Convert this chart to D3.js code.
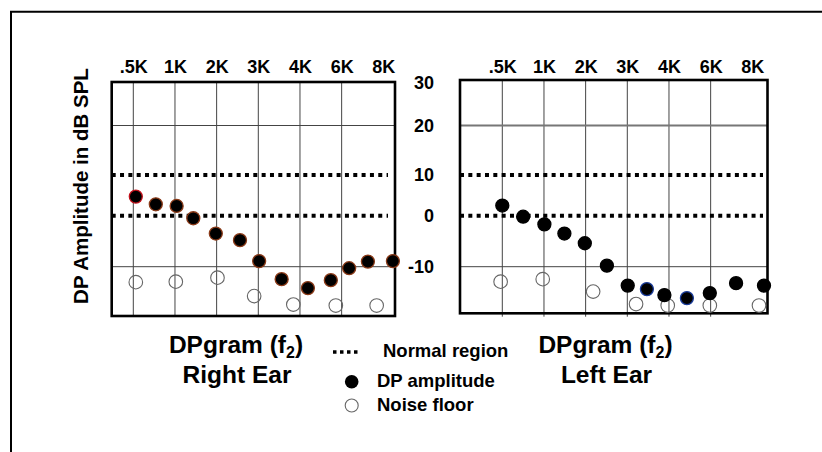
<!DOCTYPE html>
<html>
<head>
<meta charset="utf-8">
<script src="https://cdn.jsdelivr.net/npm/d3@7"></script>
<style>
  html, body { margin: 0; padding: 0; background: #fff; }
  svg { display: block; }
  text { font-family: "Liberation Sans", Arial, Helvetica, sans-serif; font-weight: bold; fill: #000; }
</style>
</head>
<body>
<div id="chart"></div>
<script>
// ---- data ----
const freqTicks = [500, 1000, 2000, 3000, 4000, 6000, 8000];
const tickLabels = [".5K", "1K", "2K", "3K", "4K", "6K", "8K"];
const gridFreqs = [500, 1000, 2000, 3000, 4000, 6000];
const dbTicks = [30, 20, 10, 0, -10];
const dbTickLabels = ["30", "20", "10", "0", "-10"];
const solidGridDb = [20, -10];
const normalRegionDb = [10, 0];

// Right ear (left panel)
const rightEarFreq  = [530, 770, 1040, 1440, 1980, 2560, 3020, 3560, 4380, 5480, 6360, 7260, 8460];
const rightEarDP    = [4.7, 2.8, 2.4, -0.5, -3.5, -4.8, -8.9, -12.5, -14.3, -12.7, -10.3, -9.0, -8.9];
const rightEarNFreq = [530, 1020, 2020, 2900, 3840, 5720, 7680];
const rightEarNoise = [-13.1, -13.0, -12.2, -15.9, -17.6, -17.8, -17.8];

// Left ear (right panel)
const leftEarFreq   = [500, 750, 1010, 1490, 1980, 2510, 3010, 3470, 3890, 4860, 5960, 7220, 8560];
const leftEarDP     = [2.5, -0.2, -1.7, -3.5, -5.4, -9.8, -13.8, -14.5, -15.7, -16.3, -15.3, -13.3, -13.8];
const leftEarBlue   = [false, false, false, false, false, false, false, true, false, true, false, false, false];
const leftEarNFreq  = [480, 985, 2180, 3210, 3970, 5960, 8320];
const leftEarNoise  = [-13.0, -12.5, -15.0, -17.5, -17.8, -17.8, -17.8];

const yAxisTitle = "DP Amplitude in dB SPL";
const legendItems = ["Normal region", "DP amplitude", "Noise floor"];

// ---- layout ----
const W = 822, H = 452;
const svg = d3.select("#chart").append("svg").attr("width", W).attr("height", H);
svg.append("rect").attr("width", W).attr("height", H).attr("fill", "#fff");

// outer frame (extends beyond right/bottom)
svg.append("path").attr("d", `M11,${H + 5}L11,11.7L${W + 5},11.7`)
  .attr("fill", "none").attr("stroke", "#000").attr("stroke-width", 2);

const y = d3.scaleLinear()
  .domain([-20, -10, 0, 10, 20, 30])
  .range([316.5, 266.7, 215.7, 175, 125.5, 83]);

const freqIndex = d3.scaleLinear().domain(freqTicks).range(d3.range(freqTicks.length));

const panels = [
  { left: 111.7, right: 395, top: 82, bottom: 316, x0: 133.3, gridBottom: 316, dotEnd: 388,
    dpF: rightEarFreq, dp: rightEarDP, nF: rightEarNFreq, nz: rightEarNoise,
    dpStroke: (d, i) => i === 0 ? "#c0101a" : "#8a3a18", line20: { w: 1, c: "#444" },
    title: "Right Ear", cx: 236 },
  { left: 460, right: 767.5, top: 80, bottom: 313.3, x0: 502.3, gridBottom: 316.7, dotEnd: 763,
    dpF: leftEarFreq, dp: leftEarDP, nF: leftEarNFreq, nz: leftEarNoise,
    dpStroke: (d, i) => leftEarBlue[i] ? "#1a3c9a" : "#000", line20: { w: 2, c: "#777" },
    title: "Left Ear", cx: 605.5 }
];
const step = 41.67;

panels.forEach(p => {
  const idxToX = d3.scaleLinear().domain([0, freqTicks.length - 1])
    .range([p.x0, p.x0 + step * (freqTicks.length - 1)]);
  const x = f => idxToX(freqIndex(f));
  const g = svg.append("g");

  // vertical grid
  g.selectAll(".vg").data(gridFreqs).join("line")
    .attr("x1", d => x(d)).attr("x2", d => x(d))
    .attr("y1", p.top).attr("y2", p.gridBottom)
    .attr("stroke", "#444").attr("stroke-width", 1);

  // solid horizontal grid
  g.selectAll(".hg").data(solidGridDb).join("line")
    .attr("x1", p.left).attr("x2", p.right)
    .attr("y1", d => y(d)).attr("y2", d => y(d))
    .attr("stroke", d => d === 20 ? p.line20.c : "#444")
    .attr("stroke-width", d => d === 20 ? p.line20.w : 1);

  // normal region dotted lines
  g.selectAll(".nr").data(normalRegionDb).join("line")
    .attr("x1", p.left).attr("x2", p.dotEnd)
    .attr("y1", d => y(d)).attr("y2", d => y(d))
    .attr("stroke", "#000").attr("stroke-width", 4)
    .attr("stroke-dasharray", "4 4.33");

  // border
  g.append("rect").attr("x", p.left).attr("y", p.top)
    .attr("width", p.right - p.left).attr("height", p.bottom - p.top)
    .attr("fill", "none").attr("stroke", "#000").attr("stroke-width", 2.6);

  // top frequency labels
  const ax = d3.axisTop(idxToX).tickValues(d3.range(freqTicks.length))
    .tickFormat(i => tickLabels[i]).tickSize(0).tickPadding(0);
  const axg = g.append("g").attr("transform", "translate(0,73.3)").call(ax);
  axg.select(".domain").remove();
  axg.selectAll("text").attr("font-size", 18).attr("font-family", null).attr("fill", "#000");

  // noise floor
  g.selectAll(".nz").data(p.nF.map((f, i) => [f, p.nz[i]])).join("circle")
    .attr("cx", d => x(d[0])).attr("cy", d => y(d[1])).attr("r", 6.8)
    .attr("fill", "none").attr("stroke", "#666").attr("stroke-width", 1.1);

  // DP amplitude
  g.selectAll(".dp").data(p.dpF.map((f, i) => [f, p.dp[i]])).join("circle")
    .attr("cx", d => x(d[0])).attr("cy", d => y(d[1])).attr("r", 6.5)
    .attr("fill", "#000").attr("stroke", p.dpStroke).attr("stroke-width", 1.3);

  // titles
  const t = svg.append("text").attr("x", p.cx).attr("y", 353.3)
    .attr("text-anchor", "middle").attr("font-size", 24.5);
  t.append("tspan").text("DPgram (f");
  t.append("tspan").attr("font-size", 16).attr("dy", 5).text("2");
  t.append("tspan").attr("dy", -5).text(")");
  svg.append("text").attr("x", p.cx + 1).attr("y", 382.5)
    .attr("text-anchor", "middle").attr("font-size", 24.5).text(p.title);
});

// y axis labels (between panels)
const ay = d3.axisLeft(y).tickValues(dbTicks)
  .tickFormat(d => dbTickLabels[dbTicks.indexOf(d)]).tickSize(0).tickPadding(26);
const ayg = svg.append("g").attr("transform", "translate(460,0)").call(ay);
ayg.select(".domain").remove();
ayg.selectAll("text").attr("font-size", 18).attr("font-family", null).attr("fill", "#000");

// y axis title
svg.append("text").attr("transform", "translate(87.5,186) rotate(-90)")
  .attr("text-anchor", "middle").attr("font-size", 20.5).text(yAxisTitle);

// legend
svg.append("line").attr("x1", 333).attr("x2", 359).attr("y1", 352).attr("y2", 352)
  .attr("stroke", "#000").attr("stroke-width", 3.5).attr("stroke-dasharray", "3.5 3.5");
svg.append("text").attr("x", 383).attr("y", 356.5).attr("font-size", 18.5).text(legendItems[0]);
svg.append("circle").attr("cx", 351.7).attr("cy", 381.7).attr("r", 6.8).attr("fill", "#000");
svg.append("text").attr("x", 377).attr("y", 387).attr("font-size", 18.5).text(legendItems[1]);
svg.append("circle").attr("cx", 351.7).attr("cy", 405.5).attr("r", 6.5)
  .attr("fill", "none").attr("stroke", "#666").attr("stroke-width", 1.1);
svg.append("text").attr("x", 377).attr("y", 410.5).attr("font-size", 18.5).text(legendItems[2]);
</script>
</body>
</html>
